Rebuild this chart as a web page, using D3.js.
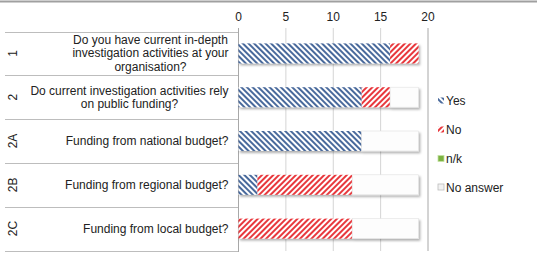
<!DOCTYPE html>
<meta charset="utf-8">
<title>Investigation activities</title>
<style>
body { margin: 0; background: #fff; }
text { font-family: "Liberation Sans", Arial, sans-serif; fill: #222; }
</style>
<body>
<script src="https://cdn.jsdelivr.net/npm/d3@7"></script>
<script>

var w = 537, h = 268;

var rows = ["1", "2", "2A", "2B", "2C"];
var questions = [
  ["Do you have current in-depth", "investigation activities at your", "organisation?"],
  ["Do current investigation activities rely", "on public funding?"],
  ["Funding from national budget?"],
  ["Funding from regional budget?"],
  ["Funding from local budget?"]
];
var series = ["Yes", "No", "n/k", "No answer"];
var yes = [16, 13, 13, 2, 0];
var no = [3, 3, 0, 10, 12];
var nk = [0, 0, 0, 0, 0];
var noAnswer = [0, 3, 6, 7, 7];
var ticks = [0, 5, 10, 15, 20];

var table = rows.map(function(r, i) {
  return { row: r, "Yes": yes[i], "No": no[i], "n/k": nk[i], "No answer": noAnswer[i] };
});

var x = d3.scaleLinear().domain([0, 20]).range([238.5, 428]);
var y = d3.scaleBand().domain(rows).range([31.5, 250.5]);
var barH = 20;

var svg = d3.select("body").append("svg")
    .attr("width", w)
    .attr("height", h);

var defs = svg.append("defs");

function hatch(id, color, angle) {
  var p = defs.append("pattern")
      .attr("id", id)
      .attr("patternUnits", "userSpaceOnUse")
      .attr("width", 4)
      .attr("height", 4)
      .attr("patternTransform", "rotate(" + angle + ")");
  p.append("rect").attr("width", 4).attr("height", 4).attr("fill", "#fff");
  p.append("rect").attr("width", 2).attr("height", 4).attr("fill", color);
}
hatch("hYes", "#4a6a9c", -45);
hatch("hNo", "#e8383d", 45);

var f = defs.append("filter").attr("id", "shadow")
    .attr("x", "-10%").attr("y", "-30%").attr("width", "130%").attr("height", "180%");
f.append("feDropShadow")
    .attr("dx", 1.5).attr("dy", 2)
    .attr("stdDeviation", 1)
    .attr("flood-color", "#000")
    .attr("flood-opacity", 0.3);

var fills = {
  "Yes": "url(#hYes)",
  "No": "url(#hNo)",
  "n/k": "#7cb342",
  "No answer": "#fdfdfd"
};

// top frame line
svg.append("line")
    .attr("x1", 0).attr("x2", w)
    .attr("y1", 1.5).attr("y2", 1.5)
    .attr("stroke", "#a0a0a0")
    .attr("stroke-width", 2);

// gridlines
svg.selectAll(".grid")
    .data(ticks.slice(1))
  .enter().append("line")
    .attr("x1", x).attr("x2", x)
    .attr("y1", 28).attr("y2", 251)
    .attr("stroke", function(d) { return d == 20 ? "#a8a8a8" : "#d4d4d4"; })
    .attr("stroke-width", 1);

// row separators on the label side
svg.selectAll(".sep")
    .data(d3.range(rows.length + 1))
  .enter().append("line")
    .attr("x1", 5).attr("x2", x(0))
    .attr("y1", function(d) { return Math.round(31.5 + d * y.step()) + 0.5; })
    .attr("y2", function(d) { return Math.round(31.5 + d * y.step()) + 0.5; })
    .attr("stroke", "#bdbdbd");

// axis line
svg.append("line")
    .attr("x1", x(0)).attr("x2", x(0))
    .attr("y1", 28).attr("y2", 252)
    .attr("stroke", "#a8a8a8");

// tick labels
svg.selectAll(".tick")
    .data(ticks)
  .enter().append("text")
    .attr("x", x)
    .attr("y", 21)
    .attr("text-anchor", "middle")
    .style("font-size", "12px")
    .text(function(d) { return d; });

// bars
var stack = d3.stack().keys(series)(table);

var groups = svg.selectAll(".bar")
    .data(rows)
  .enter().append("g")
    .attr("filter", "url(#shadow)");

groups.each(function(r, i) {
  var g = d3.select(this);
  stack.forEach(function(s) {
    var d = s[i];
    if (d[1] - d[0] <= 0) return;
    g.append("rect")
      .attr("x", x(d[0]))
      .attr("y", y(r) + (y.bandwidth() - barH) / 2)
      .attr("width", x(d[1]) - x(d[0]))
      .attr("height", barH)
      .attr("fill", fills[s.key])
      .attr("stroke", s.key == "No answer" ? "#e2e2e2" : "none")
      .attr("stroke-width", 0.6);
  });
});

// row numbers
svg.selectAll(".num")
    .data(rows)
  .enter().append("text")
    .attr("transform", function(d) {
      return "translate(13," + (y(d) + y.bandwidth() / 2) + ")rotate(-90)";
    })
    .attr("text-anchor", "middle")
    .attr("dominant-baseline", "central")
    .style("font-size", "12px")
    .text(function(d) { return d; });

// question labels
var lh = 13.3;
rows.forEach(function(r, i) {
  var lines = questions[i];
  var t = svg.append("text")
      .attr("text-anchor", "middle")
      .style("font-size", "12px");
  var cy = y(r) + y.bandwidth() / 2;
  lines.forEach(function(l, j) {
    t.append("tspan")
      .attr("y", cy + (j - (lines.length - 1) / 2) * lh + 4)
      .text(l);
  });
  var maxW = 0;
  t.selectAll("tspan").each(function() {
    maxW = Math.max(maxW, this.getComputedTextLength());
  });
  t.selectAll("tspan").attr("x", 228.5 - maxW / 2);
});

// legend
var ly = [100.5, 129.5, 158.5, 187];
var leg = svg.selectAll(".legend")
    .data(series)
  .enter().append("g")
    .attr("transform", function(d, i) { return "translate(438," + ly[i] + ")"; });

leg.append("rect")
    .attr("x", 0).attr("y", -3)
    .attr("width", 6).attr("height", 6)
    .attr("fill", function(d) { return d == "No answer" ? "#f2f2f2" : fills[d]; })
    .attr("stroke", function(d) { return d == "n/k" ? "#c5e1a5" : (d == "No answer" ? "#bdbdbd" : "none"); })
    .attr("stroke-width", 0.8);

leg.append("text")
    .attr("x", 8)
    .attr("y", 4.5)
    .style("font-size", "12px")
    .text(function(d) { return d; });

</script>
